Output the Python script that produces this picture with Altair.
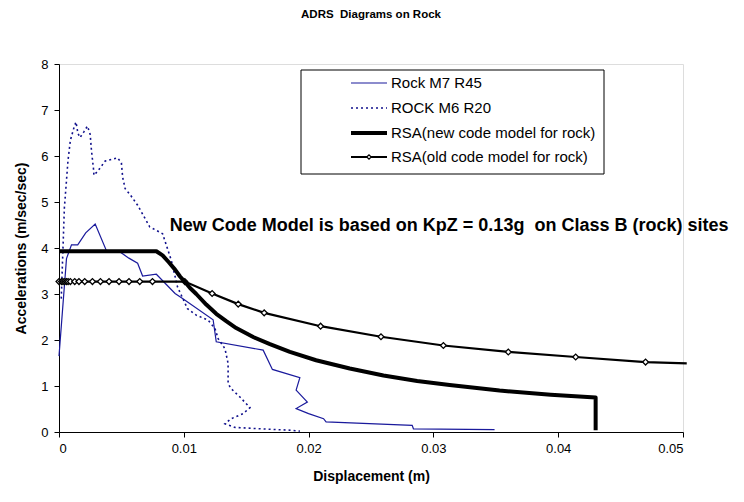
import altair as alt
import pandas as pd

# Rock M7 R45 spectrum (displacement m, acceleration m/s^2)
m7_disp = [0, 0.0006, 0.001, 0.0015, 0.00214, 0.0029, 0.00385, 0.0048, 0.0056, 0.0063,
           0.0067, 0.0078, 0.0093, 0.0099, 0.01235, 0.0126, 0.01636, 0.0171, 0.0193, 0.019,
           0.0199, 0.019, 0.02, 0.0212, 0.0214, 0.0283, 0.0284, 0.0349]
m7_acc = [1.65, 3.77, 4.07, 4.07, 4.33, 4.52, 3.91, 3.93, 3.78, 3.67,
          3.39, 3.43, 3.01, 2.90, 2.44, 1.96, 1.78, 1.36, 1.18, 0.91,
          0.65, 0.51, 0.40, 0.29, 0.22, 0.146, 0.07, 0.05]

# ROCK M6 R20 spectrum
m6_disp = [0.00018, 0.00043, 0.0006, 0.00072, 0.00091, 0.00118, 0.00136, 0.00152, 0.00168, 0.00198,
           0.00228, 0.0025, 0.0026, 0.00276, 0.0028, 0.0031, 0.0037, 0.0043, 0.0047, 0.005,
           0.0051, 0.0053, 0.0057, 0.0063, 0.00727, 0.0083, 0.009, 0.0095, 0.0103, 0.011,
           0.01195, 0.0125, 0.01275, 0.0133, 0.01355, 0.01355, 0.0138, 0.0145, 0.0153, 0.01476,
           0.0138, 0.0133, 0.0141, 0.0161, 0.0184, 0.0193]
m6_acc = [2.9, 4.87, 5.47, 5.9, 6.34, 6.6, 6.74, 6.49, 6.4, 6.52,
          6.65, 6.47, 6.12, 5.73, 5.58, 5.67, 5.89, 5.93, 5.96, 5.85,
          5.54, 5.29, 5.16, 4.93, 4.46, 4.31, 3.73, 3.15, 2.68, 2.54,
          2.43, 2.25, 2.03, 1.81, 1.49, 1.05, 0.94, 0.76, 0.53, 0.40,
          0.29, 0.18, 0.10, 0.07, 0.04, 0.02]

# RSA, new code model for rock
new_disp = [0, 0.0078, 0.0083, 0.0088, 0.0093, 0.0097, 0.0101, 0.0105, 0.011, 0.0118,
            0.0126, 0.0134, 0.0142, 0.0156, 0.0169, 0.0185, 0.0206, 0.0233, 0.026, 0.0287,
            0.0313, 0.0353, 0.0394, 0.043, 0.043]
new_acc = [3.93, 3.93, 3.84, 3.69, 3.53, 3.38, 3.26, 3.13, 3.00, 2.77,
           2.57, 2.41, 2.26, 2.06, 1.91, 1.74, 1.56, 1.38, 1.23, 1.11,
           1.02, 0.90, 0.81, 0.75, 0.04]

# RSA, old code model for rock (points carrying markers)
old_disp = [0, 0.0002, 0.00032, 0.00046, 0.0006, 0.00073, 0.00091, 0.00126, 0.0016, 0.00206,
            0.00268, 0.00332, 0.00401, 0.00481, 0.00561, 0.00647, 0.00749, 0.01008, 0.01227, 0.01436,
            0.01644, 0.02096, 0.0258, 0.0308, 0.036, 0.0414, 0.047]
old_acc = [3.27, 3.27, 3.27, 3.27, 3.27, 3.27, 3.27, 3.27, 3.27, 3.27,
           3.27, 3.27, 3.27, 3.27, 3.27, 3.27, 3.27, 3.27, 3.01, 2.78,
           2.59, 2.30, 2.07, 1.88, 1.74, 1.63, 1.52]
# continuation of the old-code curve to the right edge
old_tail_disp = [0.0503]
old_tail_acc = [1.49]

x_ticks = [0, 0.01, 0.02, 0.03, 0.04, 0.05]
y_ticks = [0, 1, 2, 3, 4, 5, 6, 7, 8]

legend_labels = ["Rock M7 R45", "ROCK M6 R20",
                 "RSA(new code model for rock)", "RSA(old code model for rock)"]

NB = "\u00a0"
title_text = "ADRS" + NB + NB + "Diagrams on Rock"
note_text = "New Code Model is based on KpZ = 0.13g" + NB + NB + "on Class B (rock) sites"

FONT = "Liberation Sans"
W, H = 624, 368


def frame(d, a):
    return pd.DataFrame({"i": range(len(d)), "d": d, "a": a})


xs = alt.Scale(domain=[0, 0.05], nice=False, zero=False)
ys = alt.Scale(domain=[0, 8], nice=False)

x_enc = alt.X(
    "d:Q", scale=xs,
    axis=alt.Axis(values=x_ticks, format=".2~f", title="Displacement (m)", grid=False,
                  labelFontSize=13, labelFont=FONT, titleFont=FONT, titleFontSize=14,
                  titleFontWeight="bold", titlePadding=14, labelPadding=5, tickSize=5,
                  domainColor="black", tickColor="black", labelColor="black",
                  titleColor="black"),
)
y_enc = alt.Y(
    "a:Q", scale=ys,
    axis=alt.Axis(values=y_ticks, title="Accelerations (m/sec/sec)", grid=False,
                  labelFontSize=13, labelFont=FONT, titleFont=FONT, titleFontSize=14,
                  titleFontWeight="bold", titlePadding=12, labelPadding=6, tickSize=5,
                  domainColor="black", tickColor="black", labelColor="black",
                  titleColor="black"),
)

m7 = alt.Chart(frame(m7_disp, m7_acc)).mark_line(
    color="#1a1a9c", strokeWidth=1.2, clip=False
).encode(x=x_enc, y=y_enc, order="i:Q")

m6 = alt.Chart(frame(m6_disp, m6_acc)).mark_line(
    color="#10108c", strokeWidth=1.6, strokeDash=[2, 3]
).encode(x="d:Q", y="a:Q", order="i:Q")

old_full = frame(old_disp + old_tail_disp, old_acc + old_tail_acc)
old_line = alt.Chart(old_full).mark_line(
    color="black", strokeWidth=2.2, clip=False
).encode(x="d:Q", y="a:Q", order="i:Q")

old_pts = alt.Chart(frame(old_disp, old_acc)).mark_point(
    shape="diamond", size=34, filled=False, color="black", fill="white",
    fillOpacity=1, strokeWidth=1.3
).encode(x="d:Q", y="a:Q")

new_line = alt.Chart(frame(new_disp, new_acc)).mark_line(
    color="black", strokeWidth=4, strokeJoin="round", strokeCap="butt"
).encode(x="d:Q", y="a:Q", order="i:Q")

note = alt.Chart(pd.DataFrame({"t": [note_text]})).mark_text(
    align="left", baseline="middle", font=FONT, fontSize=18, fontWeight="bold", color="black"
).encode(x=alt.datum(0.00888), y=alt.datum(4.47), text="t:N")

# legend box
LX0, LX1, LY0, LY1 = 242, 545, 6, 110
row_y = [19, 44, 69, 93]
sym_x0, sym_x1, txt_x = 292, 328, 332

legend_layers = [
    alt.Chart(pd.DataFrame({"k": [0]})).mark_rect(
        fill="white", stroke="black", strokeWidth=1
    ).encode(x=alt.value(LX0), x2=alt.value(LX1), y=alt.value(LY0), y2=alt.value(LY1))
]
sym_styles = [
    dict(color="#1a1a9c", strokeWidth=1.2),
    dict(color="#10108c", strokeWidth=1.6, strokeDash=[2, 3]),
    dict(color="black", strokeWidth=4),
    dict(color="black", strokeWidth=2.2),
]
for lab, yy, st in zip(legend_labels, row_y, sym_styles):
    legend_layers.append(
        alt.Chart(pd.DataFrame({"k": [0]})).mark_rule(**st).encode(
            x=alt.value(sym_x0), x2=alt.value(sym_x1), y=alt.value(yy))
    )
    legend_layers.append(
        alt.Chart(pd.DataFrame({"t": [lab]})).mark_text(
            align="left", baseline="middle", font=FONT, fontSize=15, color="black"
        ).encode(x=alt.value(txt_x), y=alt.value(yy), text="t:N")
    )
legend_layers.append(
    alt.Chart(pd.DataFrame({"k": [0]})).mark_point(
        shape="diamond", size=20, filled=False, color="black", fill="white",
        fillOpacity=1, strokeWidth=1.2
    ).encode(x=alt.value((sym_x0 + sym_x1) / 2), y=alt.value(row_y[3]))
)

chart = alt.layer(m7, m6, old_line, old_pts, new_line, note, *legend_layers).properties(
    width=W, height=H,
    title=alt.TitleParams(title_text, font=FONT, fontSize=11.5,
                          fontWeight="bold", color="black", anchor="middle", offset=38),
    autosize=alt.AutoSizeParams(type="none"),
    padding={"left": 59, "top": 64, "right": 61, "bottom": 70},
).configure_view(stroke=None).configure(background="white")

chart.save("out.html", embed_options={"renderer": "svg", "actions": False})
